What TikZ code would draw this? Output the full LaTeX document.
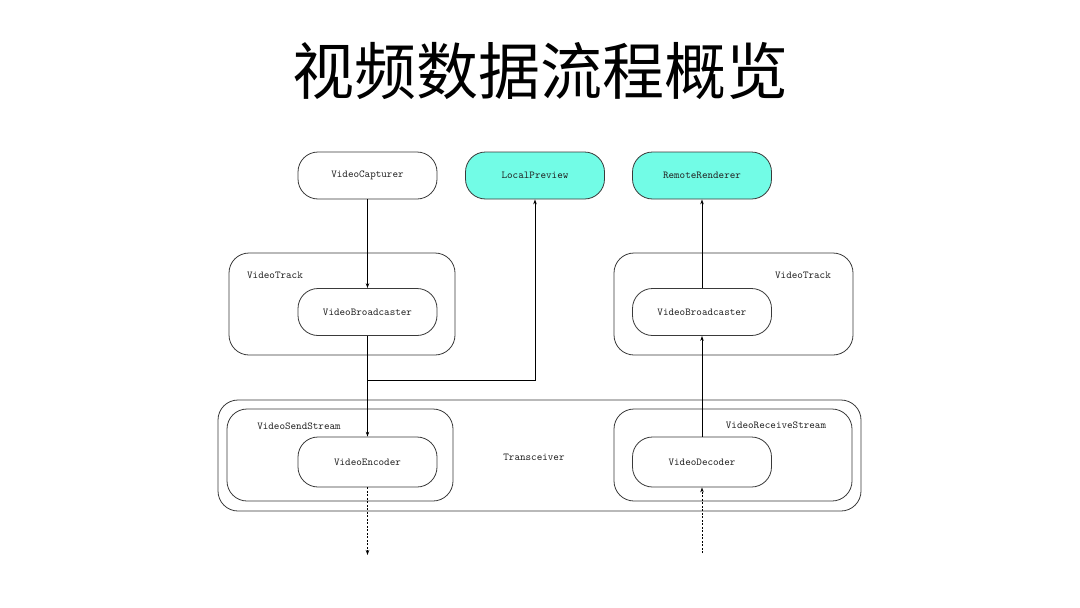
\documentclass[tikz,border=0pt]{standalone}
\usepackage{fontspec}
\newfontfamily\cjk{Noto Sans CJK SC}
\usetikzlibrary{arrows.meta}
\definecolor{aqua}{HTML}{72FCE6}
\definecolor{edge}{HTML}{3A3A3A}
\definecolor{txt}{HTML}{222222}
\begin{document}
\begin{tikzpicture}[x=1pt,y=-1pt,
  box/.style={draw=edge,line width=0.8pt,rounded corners=20pt,minimum width=139pt,minimum height=47pt,inner sep=0pt,text=txt,font=\ttfamily\fontsize{10.6}{11}\selectfont},
  hl/.style={box,fill=aqua},
  frame/.style={draw=edge,line width=0.8pt,rounded corners=20pt},
  lbl/.style={font=\ttfamily\fontsize{10.6}{11}\selectfont,text=txt,inner sep=0pt},
  flow/.style={draw=black,line width=0.8pt,-{Stealth[length=5pt,width=3.5pt]}},
  dflow/.style={flow,dash pattern=on 2pt off 1.5pt}]
\useasboundingbox[fill=white] (0,0) rectangle (1080,608);
\node[font=\cjk\fontsize{62}{64}\selectfont] (title) at (540,71) {视频数据流程概览};
% containers
\draw[frame] (218,400) rectangle (861,511);
\node[lbl] (trans) at (534,457) {Transceiver};
\draw[frame] (229,253) rectangle (455,355);
\node[lbl] (vtl) at (275,275) {VideoTrack};
\draw[frame] (614,253) rectangle (853,355);
\node[lbl] (vtr) at (803,275) {VideoTrack};
\draw[frame] (227,409) rectangle (453,501);
\node[lbl] (vss) at (299,426) {VideoSendStream};
\draw[frame] (614,409) rectangle (852,501);
\node[lbl] (vrs) at (776,425) {VideoReceiveStream};
% nodes
\node[box] (cap) at (367.5,175.5) {VideoCapturer};
\node[hl] (lp) at (535,175.5) {LocalPreview};
\node[hl] (rr) at (702,175.5) {RemoteRenderer};
\node[box] (bl) at (367.5,312) {VideoBroadcaster};
\node[box] (br) at (702,312) {VideoBroadcaster};
\node[box,minimum height=50pt] (enc) at (367.5,462) {VideoEncoder};
\node[box,minimum height=50pt] (dec) at (702,462) {VideoDecoder};
\coordinate (split) at (367.5,380);
\coordinate (outE) at (367.5,555);
\coordinate (inD) at (702,553);
% connectors
\draw[flow] (cap.south) -- (bl.north);
\draw[flow] (bl.south) -- (enc.north);
\draw[flow] (split) -| (lp.south);
\draw[flow] (dec.north) -- (br.south);
\draw[flow] (br.north) -- (rr.south);
\draw[dflow] (enc.south) -- (outE);
\draw[dflow] (inD) -- (dec.south);
\end{tikzpicture}
\end{document}
